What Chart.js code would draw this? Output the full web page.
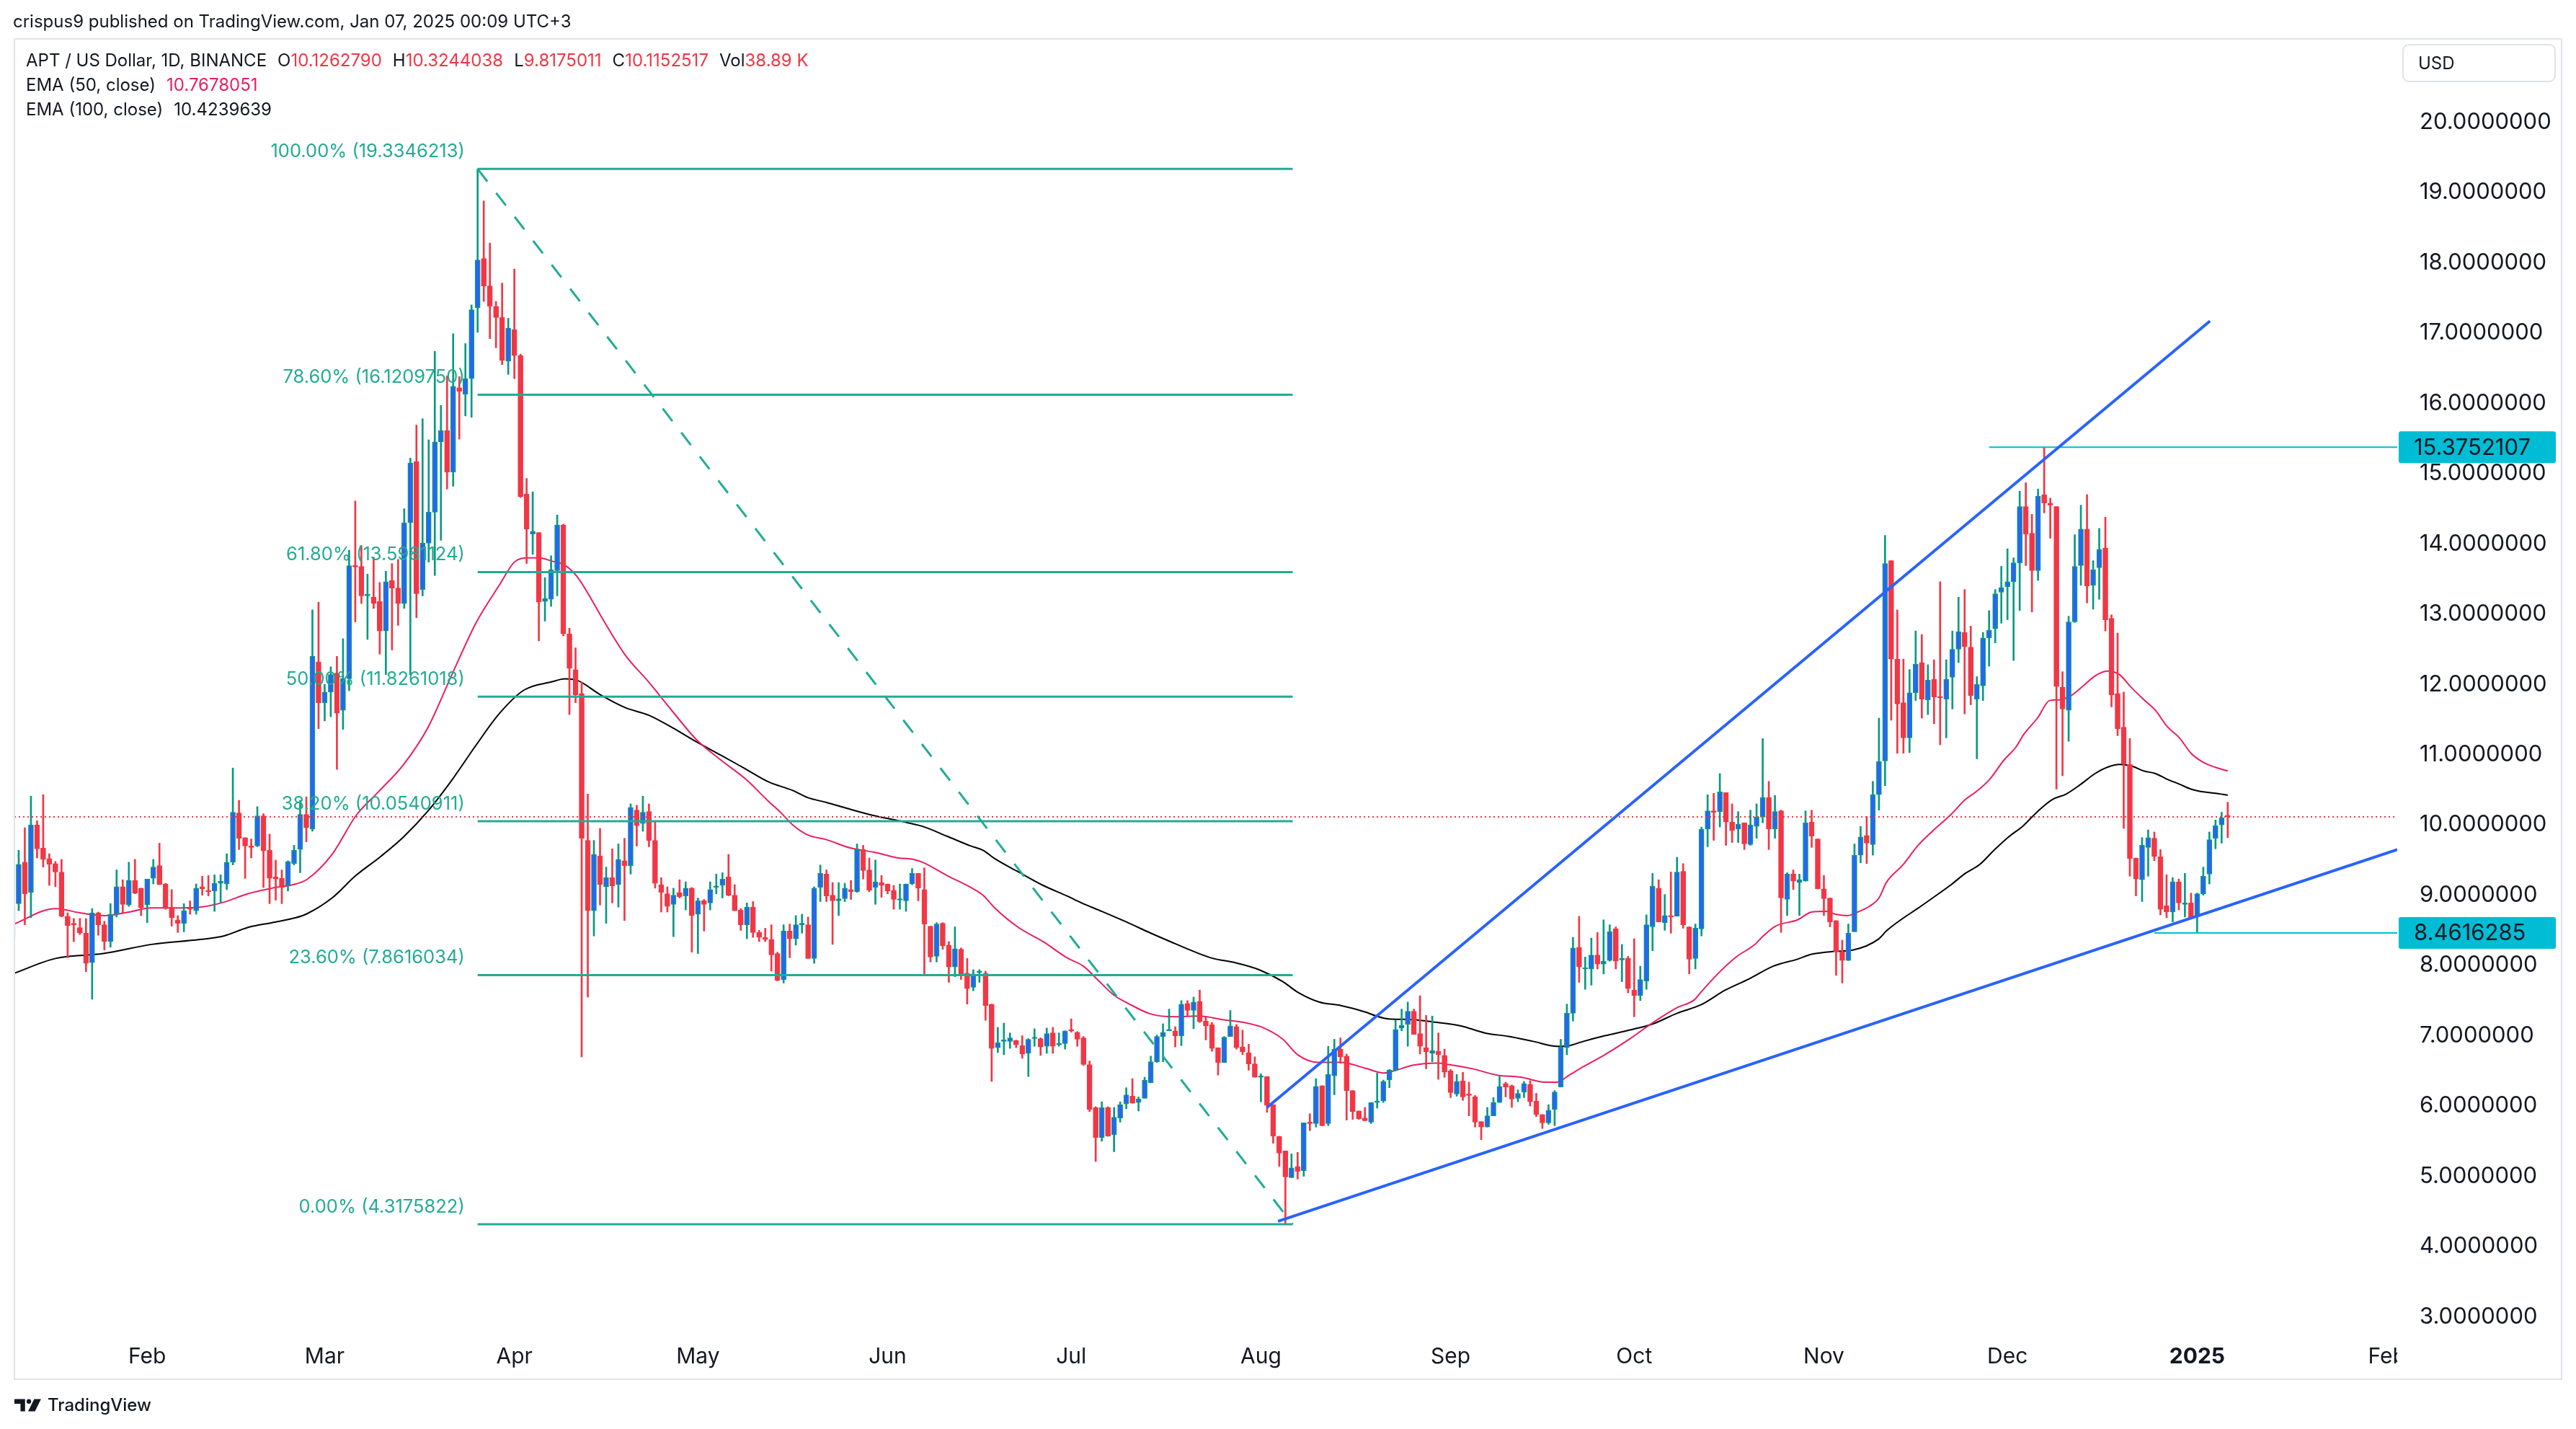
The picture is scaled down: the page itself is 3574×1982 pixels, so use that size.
<!DOCTYPE html>
<html>
<head>
<meta charset="utf-8">
<title>APT / US Dollar, 1D</title>
<script src="https://cdn.jsdelivr.net/npm/chart.js@4.4.1/dist/chart.umd.min.js"></script>
<style>
  html, body { margin: 0; padding: 0; background: #fff; }
  body { width: 3574px; height: 1982px; position: relative; overflow: hidden;
         font-family: Inter, "Noto Sans", sans-serif; color: #131722; }
  #chart { position: absolute; left: 0; top: 0; }
  .hdr { position: absolute; left: 18px; top: 14px; font-size: 24px; line-height: 32px; white-space: nowrap; }
  .frame { position: absolute; left: 19px; top: 53px; width: 3536px; height: 1861px; box-sizing: border-box;
           border: 2px solid #E0E3EB; pointer-events: none; }
  .legend { position: absolute; left: 36px; top: 67px; font-size: 24px; line-height: 34px; white-space: nowrap; }
  .legend .r { color: #F23645; }
  .legend .p { color: #E91E63; }
  .legend .gap { display: inline-block; width: 15px; }
  .usd { position: absolute; left: 3333px; top: 61px; width: 213px; height: 53px; box-sizing: border-box;
         border: 2px solid #E0E3EB; border-radius: 9px; font-size: 24px; line-height: 49px; padding-left: 20px; }
  .logo { position: absolute; left: 20px; top: 1934px; display: flex; align-items: center; gap: 8px;
          font-size: 24px; font-weight: 500; }
</style>
</head>
<body>
<canvas id="chart" width="3574" height="1982"></canvas>
<div class="frame"></div>
<div class="hdr">crispus9 published on TradingView.com, Jan 07, 2025 00:09 UTC+3</div>
<div class="legend">
  <div>APT / US Dollar, 1D, BINANCE<span class="gap"></span>O<span class="r" id="vO"></span><span class="gap"></span>H<span class="r" id="vH"></span><span class="gap"></span>L<span class="r" id="vL"></span><span class="gap"></span>C<span class="r" id="vC"></span><span class="gap"></span>Vol<span class="r" id="vV"></span></div>
  <div>EMA (50, close)<span class="gap"></span><span class="p" id="vE50"></span></div>
  <div>EMA (100, close)<span class="gap"></span><span id="vE100"></span></div>
</div>
<div class="usd">USD</div>
<div class="logo">
  <svg width="38" height="22" viewBox="0 0 36 20"><path d="M0 2h14v16H8V8H0z" fill="#131722"/><circle cx="19" cy="5" r="3" fill="#131722"/><path d="M26 2h9l-8 16h-9z" fill="#131722"/></svg>
  <span>TradingView</span>
</div>
<script>
// x values are days counted from 2024-02-01, first candle is 2024-01-10
const START_DAY = -22;

const OPEN = [
  8.40, 8.88, 9.47, 9.04, 10.00, 9.67, 9.52, 9.45, 9.33, 8.70,
  8.59, 8.54, 8.46, 8.04, 8.75, 8.58, 8.34, 8.73, 9.12, 8.86,
  9.21, 9.10, 8.86, 9.24, 9.42, 9.16, 8.83, 8.65, 8.60, 8.82,
  8.78, 9.12, 9.07, 9.06, 9.17, 9.16, 9.47, 10.17, 9.82, 9.70,
  9.70, 10.13, 9.64, 9.26, 9.24, 9.14, 9.45, 9.65, 10.15, 9.94,
  12.32, 11.74, 11.89, 12.16, 11.63, 12.08, 13.69, 13.68, 13.26, 13.24,
  13.18, 12.76, 13.48, 13.37, 13.15, 14.30, 15.17, 13.35, 14.01, 14.45,
  15.45, 15.61, 15.02, 16.22, 16.13, 16.35, 17.36, 18.06, 17.67, 17.38,
  17.22, 16.60, 17.05, 16.68, 14.71, 14.14, 14.16, 13.18, 13.21, 13.62,
  14.27, 12.72, 12.21, 11.87, 9.78, 8.78, 9.56, 9.12, 9.25, 9.15,
  9.49, 9.42, 10.21, 10.02, 10.19, 9.78, 9.15, 9.02, 8.87, 9.04,
  8.99, 9.10, 8.73, 8.92, 8.89, 9.11, 9.14, 9.26, 9.00, 8.79,
  8.58, 8.83, 8.47, 8.40, 8.37, 8.17, 7.80, 8.49, 8.38, 8.58,
  8.58, 8.10, 9.11, 9.30, 9.00, 8.92, 8.95, 9.08, 9.05, 9.65,
  9.36, 9.11, 9.18, 9.16, 9.07, 8.93, 8.92, 9.16, 9.31, 9.08,
  8.56, 8.13, 8.60, 8.29, 7.98, 8.23, 7.89, 7.69, 7.90, 7.89,
  7.45, 6.83, 6.92, 6.92, 6.93, 6.86, 6.75, 6.96, 6.96, 6.85,
  7.04, 6.87, 6.89, 7.09, 7.05, 6.97, 6.59, 5.98, 5.55, 5.98,
  5.59, 5.83, 6.03, 6.14, 6.05, 6.11, 6.33, 6.63, 6.99, 7.07,
  7.07, 7.00, 7.46, 7.36, 7.49, 7.21, 7.16, 6.83, 6.62, 6.99,
  7.13, 6.84, 6.76, 6.60, 6.41, 6.42, 6.02, 5.57, 5.36, 4.98,
  5.14, 5.08, 5.76, 5.75, 6.29, 5.75, 6.43, 6.81, 6.71, 6.22,
  5.93, 5.83, 5.77, 6.05, 6.07, 6.37, 6.51, 7.11, 7.16, 7.35,
  7.03, 6.83, 6.75, 6.78, 6.72, 6.50, 6.17, 6.36, 6.16, 6.13,
  5.78, 5.70, 5.86, 6.05, 6.32, 6.29, 6.11, 6.20, 6.31, 6.07,
  5.88, 5.76, 5.95, 6.27, 6.83, 7.32, 8.26, 7.95, 7.95, 8.15,
  8.02, 8.07, 8.52, 8.08, 8.10, 7.65, 7.57, 7.78, 8.55, 9.10,
  8.61, 8.70, 8.70, 9.34, 8.55, 8.10, 8.52, 9.94, 10.20, 10.19,
  10.46, 10.04, 9.94, 10.03, 9.72, 9.98, 10.11, 10.39, 9.94, 10.20,
  8.94, 9.30, 9.18, 9.20, 10.04, 9.80, 9.09, 8.96, 8.64, 8.20,
  8.07, 8.48, 9.57, 9.85, 9.72, 10.43, 10.91, 13.76, 12.36, 11.74,
  11.24, 11.88, 12.31, 11.78, 12.07, 11.82, 11.79, 12.10, 12.50, 12.74,
  12.53, 11.79, 11.98, 12.66, 12.79, 13.31, 13.39, 13.46, 13.73, 14.53,
  14.15, 13.62, 14.70, 14.58, 14.53, 11.96, 11.63, 12.89, 13.69, 14.21,
  13.41, 13.66, 13.94, 12.94, 11.87, 11.39, 10.86, 9.53, 9.22, 9.68,
  9.81, 9.55, 8.85, 8.76, 9.19, 8.87, 8.89, 8.71, 9.02, 9.30,
  9.81, 10.00, 10.1262790
];

const HIGH = [
  8.90, 9.64, 9.96, 10.41, 10.06, 10.43, 9.59, 9.48, 9.51, 8.75,
  8.67, 8.67, 8.67, 8.81, 8.76, 8.63, 8.88, 9.36, 9.22, 9.47,
  9.51, 9.10, 9.23, 9.51, 9.74, 9.17, 9.08, 8.71, 8.88, 8.92,
  9.16, 9.27, 9.28, 9.29, 9.29, 9.59, 10.81, 10.35, 9.82, 9.80,
  10.26, 10.16, 9.87, 9.50, 9.36, 9.49, 9.71, 10.35, 10.40, 13.06,
  13.17, 12.00, 12.25, 12.40, 12.65, 13.91, 14.61, 13.97, 13.57, 13.81,
  13.45, 13.61, 13.72, 13.78, 14.50, 15.22, 15.69, 15.78, 15.48, 16.74,
  15.97, 16.39, 16.99, 16.38, 16.85, 17.40, 19.3346213, 18.88, 18.28, 17.45,
  17.71, 17.21, 17.91, 16.70, 14.93, 14.74, 14.16, 13.52, 13.83, 14.41,
  14.28, 12.80, 12.52, 12.03, 10.44, 9.78, 9.95, 9.40, 9.66, 9.73,
  9.81, 10.30, 10.28, 10.41, 10.30, 10.04, 9.25, 9.12, 9.10, 9.22,
  9.19, 9.11, 8.96, 8.94, 9.19, 9.30, 9.32, 9.58, 9.15, 8.81,
  8.89, 8.91, 8.50, 8.53, 8.58, 8.19, 8.58, 8.59, 8.71, 8.73,
  8.69, 9.12, 9.43, 9.36, 9.18, 9.18, 9.17, 9.21, 9.73, 9.71,
  9.53, 9.50, 9.28, 9.16, 9.14, 9.16, 9.16, 9.38, 9.31, 9.39,
  8.56, 8.61, 8.61, 8.34, 8.55, 8.25, 8.10, 7.94, 7.94, 7.92,
  7.45, 7.12, 7.18, 7.04, 6.94, 7.00, 6.96, 7.10, 6.97, 7.11,
  7.12, 7.04, 7.07, 7.24, 7.06, 6.99, 6.64, 5.99, 6.06, 5.99,
  5.98, 6.06, 6.26, 6.39, 6.13, 6.41, 6.71, 7.01, 7.17, 7.38,
  7.13, 7.50, 7.50, 7.55, 7.65, 7.26, 7.19, 6.83, 6.99, 7.36,
  7.16, 7.08, 6.88, 6.70, 6.46, 6.42, 6.02, 5.57, 5.36, 5.32,
  5.34, 5.76, 5.89, 6.39, 6.29, 6.85, 6.95, 6.97, 6.74, 6.22,
  5.93, 5.98, 6.05, 6.47, 6.37, 6.52, 7.22, 7.38, 7.48, 7.38,
  7.57, 7.29, 7.28, 7.04, 6.81, 6.52, 6.45, 6.48, 6.34, 6.15,
  5.78, 5.98, 6.12, 6.42, 6.34, 6.30, 6.23, 6.35, 6.36, 6.18,
  5.88, 6.02, 6.22, 6.95, 7.45, 8.40, 8.70, 8.12, 8.39, 8.47,
  8.65, 8.58, 8.55, 8.30, 8.13, 8.38, 7.99, 8.72, 9.31, 9.22,
  9.01, 9.33, 9.54, 9.45, 8.55, 8.59, 9.97, 10.43, 10.45, 10.73,
  10.46, 10.30, 10.19, 10.03, 10.21, 10.30, 11.23, 10.62, 10.42, 10.21,
  9.32, 9.36, 9.30, 10.20, 10.21, 9.80, 9.28, 8.96, 8.64, 8.36,
  8.59, 9.73, 9.98, 10.12, 10.62, 11.52, 14.12, 13.76, 13.06, 12.36,
  12.21, 12.76, 12.71, 12.28, 12.35, 13.46, 12.35, 12.76, 13.24, 13.35,
  12.83, 12.11, 12.74, 13.05, 13.35, 13.68, 13.93, 13.80, 14.75, 14.87,
  14.42, 14.78, 15.3752107, 14.65, 14.53, 12.18, 12.97, 14.13, 14.55, 14.70,
  13.76, 14.22, 14.38, 12.99, 12.73, 11.89, 11.23, 9.53, 9.82, 9.93,
  9.90, 9.65, 9.29, 9.25, 9.23, 9.31, 9.03, 9.03, 9.40, 9.90,
  10.07, 10.18, 10.3244038
];

const LOW = [
  8.25, 8.78, 8.58, 8.68, 9.53, 9.40, 9.14, 9.12, 8.69, 8.11,
  8.34, 8.44, 7.91, 7.52, 8.43, 8.22, 8.26, 8.69, 8.75, 8.84,
  9.02, 8.71, 8.61, 9.16, 9.15, 8.80, 8.56, 8.47, 8.48, 8.73,
  8.73, 9.00, 8.99, 8.77, 8.89, 9.08, 9.43, 9.65, 9.24, 9.53,
  9.69, 9.11, 8.88, 8.93, 8.88, 9.06, 9.43, 9.32, 9.76, 9.91,
  11.37, 11.48, 11.54, 10.79, 11.36, 11.91, 12.89, 13.15, 12.64, 13.08,
  12.43, 12.14, 12.49, 12.84, 13.08, 12.14, 12.95, 13.26, 13.74, 13.55,
  14.05, 14.78, 14.82, 15.49, 15.82, 15.80, 17.01, 17.45, 16.92, 16.79,
  16.55, 16.41, 16.35, 14.66, 13.72, 13.85, 12.62, 12.90, 13.11, 13.26,
  12.69, 11.57, 11.74, 6.70, 7.55, 8.42, 8.86, 8.60, 8.89, 8.83,
  8.64, 9.30, 9.70, 9.91, 9.69, 9.10, 8.76, 8.76, 8.41, 8.96,
  8.79, 8.19, 8.17, 8.49, 8.79, 9.02, 8.96, 8.99, 8.78, 8.50,
  8.38, 8.40, 8.34, 8.34, 7.92, 7.78, 7.75, 8.11, 8.29, 8.46,
  8.10, 8.03, 8.91, 8.91, 8.30, 8.71, 8.91, 8.94, 9.04, 9.23,
  9.05, 8.87, 8.97, 9.02, 8.80, 8.80, 8.77, 9.15, 8.92, 7.88,
  8.05, 8.05, 8.23, 7.76, 7.84, 7.80, 7.45, 7.64, 7.76, 7.22,
  6.35, 6.76, 6.73, 6.82, 6.83, 6.68, 6.42, 6.85, 6.72, 6.75,
  6.75, 6.85, 6.81, 7.05, 6.85, 6.58, 5.92, 5.21, 5.50, 5.57,
  5.35, 5.77, 5.96, 6.04, 5.93, 6.11, 6.33, 6.62, 6.63, 7.07,
  6.84, 6.86, 7.28, 7.10, 7.19, 6.94, 6.78, 6.44, 6.62, 6.99,
  6.81, 6.73, 6.51, 6.41, 6.06, 5.91, 5.47, 5.14, 4.3175822, 4.98,
  4.96, 5.00, 5.65, 5.70, 5.72, 5.72, 6.16, 6.61, 5.80, 5.81,
  5.81, 5.79, 5.75, 5.97, 6.05, 6.26, 6.50, 7.07, 6.85, 7.02,
  6.74, 6.53, 6.63, 6.38, 6.41, 6.12, 6.14, 6.08, 5.86, 5.70,
  5.52, 5.70, 5.86, 6.05, 6.13, 5.98, 6.06, 6.12, 6.00, 5.85,
  5.68, 5.74, 5.72, 6.27, 6.73, 7.21, 7.76, 7.66, 7.72, 7.95,
  7.88, 8.06, 7.95, 7.77, 7.61, 7.27, 7.50, 7.66, 8.21, 8.62,
  8.50, 8.46, 8.70, 8.53, 7.88, 7.95, 8.42, 9.69, 9.78, 9.97,
  9.71, 9.75, 9.75, 9.65, 9.71, 9.81, 10.03, 9.65, 9.81, 8.47,
  8.71, 9.08, 8.71, 9.20, 9.68, 9.09, 8.71, 8.55, 7.86, 7.75,
  8.07, 8.48, 9.46, 9.45, 9.57, 10.21, 10.56, 11.49, 11.02, 11.02,
  11.03, 11.77, 11.52, 11.57, 11.44, 11.14, 11.24, 11.65, 12.31, 11.58,
  11.71, 10.94, 11.77, 12.26, 12.59, 12.87, 12.92, 12.34, 13.05, 13.69,
  13.03, 13.48, 14.44, 14.08, 10.51, 10.70, 11.19, 12.88, 13.41, 13.16,
  13.07, 13.21, 12.76, 11.68, 11.27, 9.95, 9.27, 8.99, 8.91, 9.27,
  9.49, 8.72, 8.68, 8.62, 8.79, 8.69, 8.67, 8.4616285, 9.00, 9.16,
  9.66, 9.74, 9.8175011
];

const CLOSE = [
  8.85, 9.44, 9.02, 10.00, 9.66, 9.51, 9.44, 9.33, 8.70, 8.57,
  8.58, 8.46, 8.03, 8.75, 8.58, 8.34, 8.73, 9.12, 8.87, 9.21,
  9.03, 8.82, 9.23, 9.40, 9.15, 8.82, 8.68, 8.60, 8.78, 8.80,
  9.10, 9.09, 9.05, 9.17, 9.20, 9.47, 10.18, 9.81, 9.70, 9.68,
  10.13, 9.63, 9.24, 9.23, 9.11, 9.48, 9.64, 10.15, 9.96, 12.40,
  11.74, 11.89, 12.14, 11.59, 12.08, 13.69, 13.67, 13.26, 13.28, 13.15,
  12.76, 13.46, 13.37, 13.15, 14.30, 15.15, 13.29, 14.01, 14.45, 15.45,
  15.61, 15.02, 16.24, 16.17, 16.35, 17.33, 18.04, 17.67, 17.38, 17.22,
  16.61, 17.07, 16.68, 14.67, 14.21, 14.18, 13.17, 13.22, 13.63, 14.27,
  12.72, 12.23, 11.85, 9.81, 8.78, 9.58, 9.15, 9.25, 9.13, 9.51,
  9.42, 10.25, 9.99, 10.18, 9.78, 9.17, 9.04, 8.84, 9.00, 8.98,
  9.10, 8.71, 8.92, 8.87, 9.08, 9.13, 9.23, 9.00, 8.78, 8.58,
  8.83, 8.47, 8.40, 8.37, 8.15, 7.79, 8.49, 8.38, 8.58, 8.59,
  8.10, 9.10, 9.31, 8.99, 8.92, 8.95, 9.10, 9.05, 9.65, 9.35,
  9.07, 9.19, 9.14, 9.06, 8.94, 8.94, 9.16, 9.31, 9.10, 8.59,
  8.12, 8.59, 8.28, 7.98, 8.24, 7.87, 7.67, 7.88, 7.91, 7.43,
  6.82, 6.90, 6.93, 6.97, 6.87, 6.74, 6.95, 6.97, 6.84, 7.03,
  6.85, 6.88, 7.07, 7.07, 6.95, 6.59, 5.95, 5.55, 5.98, 5.57,
  5.84, 6.02, 6.16, 6.04, 6.10, 6.37, 6.63, 6.99, 7.05, 7.08,
  7.00, 7.45, 7.36, 7.48, 7.20, 7.14, 6.82, 6.62, 6.98, 7.14,
  6.83, 6.77, 6.60, 6.41, 6.43, 6.01, 5.57, 5.33, 4.99, 5.12,
  5.07, 5.76, 5.75, 6.28, 5.72, 6.45, 6.81, 6.70, 6.22, 5.92,
  5.82, 5.79, 6.05, 6.06, 6.35, 6.51, 7.09, 7.15, 7.35, 7.02,
  6.85, 6.77, 6.79, 6.73, 6.48, 6.19, 6.35, 6.13, 6.15, 5.77,
  5.70, 5.86, 6.05, 6.28, 6.27, 6.10, 6.18, 6.32, 6.06, 5.88,
  5.76, 5.94, 6.20, 6.84, 7.32, 8.25, 7.98, 7.97, 8.15, 8.02,
  8.06, 8.48, 8.06, 8.10, 7.67, 7.57, 7.80, 8.58, 9.13, 8.62,
  8.71, 8.69, 9.33, 8.58, 8.09, 8.53, 9.94, 10.20, 10.18, 10.47,
  10.04, 9.92, 10.01, 9.73, 10.00, 10.11, 10.39, 9.94, 10.19, 8.96,
  9.30, 9.20, 9.22, 10.03, 9.84, 9.09, 8.95, 8.62, 8.20, 8.07,
  8.46, 9.57, 9.83, 9.74, 10.43, 10.90, 13.72, 12.36, 11.72, 11.24,
  11.88, 12.29, 11.79, 12.06, 11.82, 11.81, 12.07, 12.50, 12.75, 12.54,
  11.84, 12.00, 12.66, 12.77, 13.29, 13.38, 13.46, 13.73, 14.53, 14.14,
  13.62, 14.68, 14.58, 14.55, 11.97, 11.65, 12.89, 13.68, 14.21, 13.40,
  13.63, 13.92, 12.92, 11.85, 11.37, 10.87, 9.52, 9.23, 9.71, 9.82,
  9.55, 8.80, 8.76, 9.19, 8.89, 8.89, 8.68, 9.02, 9.27, 9.79,
  9.99, 10.10, 10.1152517
];
const LAST_VOLUME = '38.89 K';

const EMA50_DAYS = [-22, -15, -11, -7, -3, 0.7, 4.6, 8.6, 12.5, 16.4, 20.4, 24.3, 26.2, 30.2, 34.1, 38, 41.9, 45.9, 49.8, 53.7,
  57.6, 60, 62.3, 64, 66.3, 68.2, 70.2, 72.2, 74.1, 78.1, 82, 85.9, 89.8, 93.8, 97.7, 101.6, 103.6, 105.5, 107.9, 111,
  115, 118.9, 122.8, 125.2, 126.7, 130.7, 134.6, 136.6, 138.5, 142.4, 146.4, 150.3, 153, 155.4, 158.1, 160.1, 164, 168, 171.9, 175.8,
  179.7, 182.5, 185.6, 188, 191.5, 195.1, 199, 202.1, 204.1, 206.8, 210.8, 212.7, 216.6, 220.6, 224.5, 228.4, 230.4, 232.4, 234.3, 238.2,
  242.2, 246.1, 250, 252.8, 253.9, 257.1, 259.8, 262.6, 264.2, 266.1, 269.7, 272, 274.4, 275.9, 277.9, 279.5, 281.4, 283, 284.2, 286.9,
  289.3, 291.6, 294.8, 297.1, 298.7, 301.1, 303.4, 305.4, 306.6, 308.9, 310.9, 312.4, 314.4, 316.4, 318.3, 320.3, 322.3, 324.2, 326.2, 328.2,
  330.1, 332.1, 334, 336, 338, 340];
const EMA50 = [8.58, 8.81, 8.75, 8.71, 8.76, 8.82, 8.82, 8.83, 8.90, 9.02, 9.10, 9.16, 9.23, 9.58, 10.13, 10.49, 10.86, 11.39, 12.14, 12.87,
  13.42, 13.74, 13.80, 13.80, 13.75, 13.70, 13.54, 13.27, 12.98, 12.42, 12.03, 11.61, 11.21, 10.92, 10.66, 10.33, 10.17, 10.00, 9.86, 9.79,
  9.67, 9.61, 9.53, 9.51, 9.47, 9.28, 9.11, 9.00, 8.82, 8.54, 8.34, 8.11, 7.99, 7.79, 7.57, 7.47, 7.31, 7.27, 7.28, 7.23,
  7.18, 7.11, 6.95, 6.73, 6.62, 6.62, 6.54, 6.47, 6.51, 6.58, 6.61, 6.59, 6.53, 6.44, 6.41, 6.34, 6.34, 6.44, 6.54, 6.73,
  6.95, 7.19, 7.40, 7.51, 7.62, 7.92, 8.13, 8.29, 8.43, 8.56, 8.65, 8.76, 8.77, 8.73, 8.71, 8.76, 8.84, 8.96, 9.18, 9.43,
  9.70, 9.90, 10.15, 10.36, 10.46, 10.65, 10.92, 11.11, 11.28, 11.52, 11.77, 11.78, 11.84, 11.98, 12.12, 12.19, 12.14, 11.96, 11.79, 11.63,
  11.40, 11.24, 11.02, 10.89, 10.82, 10.7678051];

const EMA100_DAYS = [-22, -15, -7.2, 0.7, 8.6, 12.5, 16.4, 20.4, 24.3, 26.2, 30.2, 34.1, 38, 41.9, 45.9, 49.8, 53.7, 57.6, 61.6, 66.3,
  68.2, 70.2, 74.1, 78.1, 82, 85.9, 89.8, 93.8, 97.7, 101.6, 105.5, 107.9, 111, 115, 118.9, 122.8, 126.7, 130.7, 134.6, 136.6,
  138.5, 142.4, 146.4, 150.3, 152.7, 156, 160, 164, 168, 171, 174.2, 177.8, 181.7, 185.6, 188, 191.5, 195.1, 199, 200.9, 202.9,
  206.8, 210.8, 214.7, 218.6, 222.5, 226.5, 230.4, 232.4, 234.3, 238.2, 242.2, 246.1, 250, 253.9, 257.9, 261.8, 265.7, 269.7, 272, 275.6,
  278.7, 283, 284.2, 286.9, 289.3, 291.6, 294.8, 297.1, 299.5, 301.8, 304.2, 306.6, 308.9, 311.3, 313.6, 316, 318.3, 320.3, 322.3, 324.2,
  326.2, 328.2, 330.1, 332.1, 334, 336, 338, 340];
const EMA100 = [7.88, 8.10, 8.17, 8.30, 8.37, 8.42, 8.54, 8.61, 8.68, 8.74, 8.96, 9.28, 9.54, 9.83, 10.20, 10.64, 11.13, 11.59, 11.92, 12.04,
  12.08, 12.06, 11.85, 11.67, 11.56, 11.38, 11.18, 10.99, 10.80, 10.61, 10.49, 10.39, 10.32, 10.22, 10.13, 10.06, 9.98, 9.84, 9.70, 9.64,
  9.52, 9.33, 9.14, 8.99, 8.89, 8.77, 8.62, 8.46, 8.31, 8.20, 8.10, 8.04, 7.94, 7.77, 7.62, 7.48, 7.43, 7.34, 7.28, 7.24,
  7.23, 7.19, 7.14, 7.04, 6.99, 6.92, 6.85, 6.86, 6.91, 7.00, 7.08, 7.17, 7.32, 7.44, 7.65, 7.81, 7.99, 8.09, 8.16, 8.20,
  8.22, 8.38, 8.49, 8.67, 8.81, 8.95, 9.15, 9.31, 9.44, 9.64, 9.83, 9.99, 10.19, 10.36, 10.44, 10.58, 10.73, 10.82, 10.86, 10.84,
  10.77, 10.73, 10.65, 10.58, 10.51, 10.47, 10.45, 10.4239639];

// Fibonacci retracement drawn from the March high to the August low
const FIB_FROM_DAY = 54;
const FIB_TO_DAY = 187.2;
const FIB_RATIOS = ['100.00%', '78.60%', '61.80%', '50.00%', '38.20%', '23.60%', '0.00%'];
const FIB_LEVELS = [19.3346213, 16.1209750, 13.5981124, 11.8261018, 10.0540911, 7.8616034, 4.3175822];

// trend lines as [day, price] end points
const UPPER_TREND = [[183.0, 5.98], [337.1, 17.17]];
const LOWER_TREND = [[184.8, 4.36], [367.7, 9.65]];
const MARKED_HIGH = 15.3752107;
const MARKED_LOW = 8.4616285;
const MARKED_HIGH_FROM = 301.0;
const MARKED_LOW_FROM = 328.0;

const MONTH_TICK_DAYS = [0, 29, 60, 90, 121, 151, 182, 213, 243, 274, 304, 335, 366];
const MONTH_TICK_LABELS = ['Feb', 'Mar', 'Apr', 'May', 'Jun', 'Jul', 'Aug', 'Sep', 'Oct', 'Nov', 'Dec', '2025', 'Feb'];

const X_MIN = -21.7, X_MAX = 367.7;
const Y_MIN = 2.697, Y_MAX = 21.164;

const UP_BORDER = '#089981';
const UP_FILL = '#2962FF';
const DOWN = '#F23645';
const FIB_COLOR = '#22AB94';
const CYAN = '#00BCD4';

const last = OPEN.length - 1;
document.getElementById('vO').textContent = OPEN[last].toFixed(7);
document.getElementById('vH').textContent = HIGH[last].toFixed(7);
document.getElementById('vL').textContent = LOW[last].toFixed(7);
document.getElementById('vC').textContent = CLOSE[last].toFixed(7);
document.getElementById('vV').textContent = LAST_VOLUME;
document.getElementById('vE50').textContent = EMA50[EMA50.length - 1].toFixed(7);
document.getElementById('vE100').textContent = EMA100[EMA100.length - 1].toFixed(7);

const days = OPEN.map((_, i) => START_DAY + i);
const isUp = OPEN.map((o, i) => CLOSE[i] >= o);

const seg = (pts, color, width, dash) => ({
  type: 'line',
  data: pts.map(p => ({ x: p[0], y: p[1] })),
  borderColor: color,
  borderWidth: width,
  borderDash: dash || [],
  pointRadius: 0,
  tension: 0,
  order: 0
});

const datasets = [
  {
    type: 'bar',
    data: days.map((d, i) => ({ x: d, y: [LOW[i], HIGH[i]] })),
    backgroundColor: isUp.map(u => u ? UP_BORDER : DOWN),
    barThickness: 2,
    grouped: false,
    order: 2
  },
  {
    type: 'bar',
    data: days.map((d, i) => ({ x: d, y: [OPEN[i], CLOSE[i]] })),
    backgroundColor: isUp.map(u => u ? UP_FILL : DOWN),
    borderColor: isUp.map(u => u ? UP_BORDER : DOWN),
    borderWidth: 1.5,
    borderSkipped: false,
    barThickness: 7,
    minBarLength: 2,
    grouped: false,
    order: 1
  },
  {
    type: 'line',
    data: EMA50_DAYS.map((d, i) => ({ x: d, y: EMA50[i] })),
    borderColor: '#E91E63',
    borderWidth: 2,
    pointRadius: 0,
    cubicInterpolationMode: 'monotone',
    order: 3
  },
  {
    type: 'line',
    data: EMA100_DAYS.map((d, i) => ({ x: d, y: EMA100[i] })),
    borderColor: '#000000',
    borderWidth: 2,
    pointRadius: 0,
    cubicInterpolationMode: 'monotone',
    order: 3
  },
  ...FIB_LEVELS.map(lv => seg([[FIB_FROM_DAY, lv], [FIB_TO_DAY, lv]], FIB_COLOR, 3)),
  seg([[FIB_FROM_DAY, FIB_LEVELS[0]], [FIB_TO_DAY, FIB_LEVELS[FIB_LEVELS.length - 1]]], FIB_COLOR, 3, [22, 20]),
  seg(UPPER_TREND, '#2962FF', 4),
  seg(LOWER_TREND, '#2962FF', 4),
  seg([[MARKED_HIGH_FROM, MARKED_HIGH], [X_MAX, MARKED_HIGH]], CYAN, 2),
  seg([[MARKED_LOW_FROM, MARKED_LOW], [X_MAX, MARKED_LOW]], CYAN, 2),
  seg([[X_MIN, CLOSE[last]], [X_MAX, CLOSE[last]]], DOWN, 2, [2, 4])
];

const overlay = {
  id: 'overlay',
  afterDatasetsDraw(chart) {
    const { ctx, scales: { x, y } } = chart;
    ctx.save();
    ctx.font = '25.5px Inter';
    ctx.fillStyle = FIB_COLOR;
    ctx.textAlign = 'right';
    ctx.textBaseline = 'middle';
    FIB_LEVELS.forEach((lv, i) => {
      ctx.fillText(FIB_RATIOS[i] + ' (' + lv.toFixed(7) + ')',
        x.getPixelForValue(FIB_FROM_DAY) - 18, y.getPixelForValue(lv) - 24);
    });
    ctx.restore();
  },
  afterDraw(chart) {
    const { ctx, chartArea, scales: { x, y } } = chart;
    ctx.save();
    // time labels are cut at the price scale
    ctx.fillStyle = '#ffffff';
    ctx.fillRect(chartArea.right, x.top, y.right - chartArea.right, x.bottom - x.top);
    // price tags of the two marked levels
    ctx.font = '31px Inter';
    ctx.textAlign = 'left';
    ctx.textBaseline = 'middle';
    [MARKED_HIGH, MARKED_LOW].forEach(v => {
      const py = y.getPixelForValue(v);
      ctx.fillStyle = CYAN;
      ctx.beginPath();
      ctx.roundRect(chartArea.right + 2, py - 22, y.right - chartArea.right - 9, 44, 3);
      ctx.fill();
      ctx.fillStyle = '#131722';
      ctx.fillText(v.toFixed(7), chartArea.right + 23, py + 1);
    });
    ctx.restore();
  }
};

Chart.defaults.font.family = 'Inter';
Chart.defaults.color = '#131722';

new Chart(document.getElementById('chart'), {
  type: 'bar',
  data: { datasets },
  options: {
    responsive: false,
    animation: false,
    devicePixelRatio: 1,
    layout: { padding: { left: 20, top: 56, right: 21, bottom: 70 } },
    plugins: { legend: { display: false }, tooltip: { enabled: false } },
    scales: {
      x: {
        type: 'linear',
        min: X_MIN,
        max: X_MAX,
        offset: false,
        grid: { display: false },
        border: { display: false },
        afterBuildTicks: s => { s.ticks = MONTH_TICK_DAYS.map(v => ({ value: v })); },
        afterFit: s => { s.height = 56; },
        ticks: {
          autoSkip: false,
          maxRotation: 0,
          padding: 0,
          color: '#131722',
          font: c => ({ size: 30, family: 'Inter', weight: c.tick && c.tick.value === 335 ? 'bold' : 'normal' }),
          callback: v => MONTH_TICK_LABELS[MONTH_TICK_DAYS.indexOf(v)]
        }
      },
      y: {
        type: 'linear',
        position: 'right',
        min: Y_MIN,
        max: Y_MAX,
        grid: { display: false },
        border: { display: false },
        afterFit: s => { s.width = 227; },
        ticks: {
          stepSize: 1,
          maxTicksLimit: 40,
          includeBounds: false,
          padding: 23,
          crossAlign: 'near',
          color: '#131722',
          font: { size: 31, family: 'Inter' },
          callback: v => (v >= 3 && v <= 20) ? v.toFixed(7) : null
        }
      }
    }
  },
  plugins: [overlay]
});
</script>
</body>
</html>
